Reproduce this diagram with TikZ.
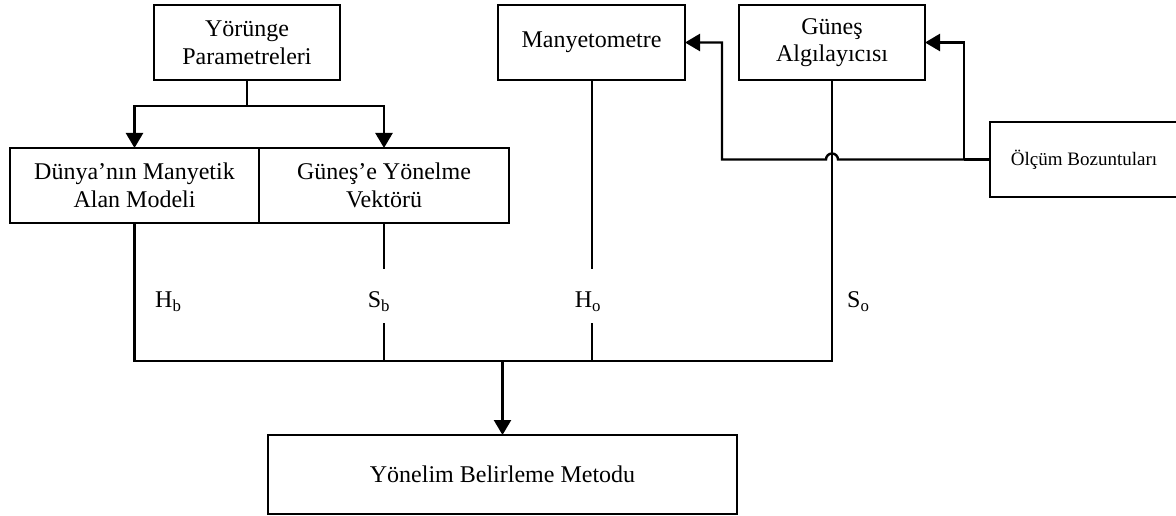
\documentclass[tikz,border=0pt]{standalone}
\usepackage{fontspec}
\setmainfont{Liberation Serif}
\usepackage{tikz}
\usetikzlibrary{arrows.meta, positioning, calc}

\begin{document}
\begin{tikzpicture}[x=1pt, y=1pt, node distance=20pt, >={Triangle[length=15pt,width=17pt]}]
    \tikzstyle{block} = [rectangle, draw=black, line width=1.5pt, outer sep=0pt, align=center, minimum height=75pt, font=\fontsize{24}{27.6}\selectfont]
    \tikzstyle{line} = [draw, line width=2.4pt, black]
    \tikzstyle{thinline} = [draw, line width=2pt, black]
    \tikzstyle{lbl} = [inner sep=0pt, font=\fontsize{24}{27.6}\selectfont]

    \useasboundingbox (0,0) rectangle (1176,-516);

    % top row
    \node [block, minimum width=186pt] (yor) at (247,-42.5) {Yörünge\\Parametreleri};
    \node [block, minimum width=187pt, right=158pt of yor] (many) {Manyetometre};
    \node [block, minimum width=186pt, right=54pt of many] (gunes) {Güneş\\Algılayıcısı};

    % models
    \node [block, minimum width=249pt] (dunya) at (134.5,-185.5) {Dünya’nın Manyetik\\Alan Modeli};
    \node [block, minimum width=250pt, right=0pt of dunya] (vektor) {Güneş’e Yönelme\\Vektörü};

    % disturbances and method
    \node [block, minimum width=188pt, font=\fontsize{19}{22}\selectfont] (olcum) at (1084,-159.5) {Ölçüm Bozuntuları};
    \node [block, minimum width=469pt, minimum height=79pt] (metot) at (502.5,-474.5) {Yönelim Belirleme Metodu};

    \coordinate (bus) at (0,-361);
    \coordinate (gaptop) at (0,-269);
    \coordinate (gapbot) at (0,-323);

    % signal labels
    \node [lbl, anchor=west] (hb) at (155,-302) {H\textsubscript{b}};
    \node [lbl] (sb) at (379,-302) {S\textsubscript{b}};
    \node [lbl] (ho) at (588,-302) {H\textsubscript{o}};
    \node [lbl, anchor=west] (so) at (847,-302) {S\textsubscript{o}};

    % fork from orbit parameters
    \path [line] (yor.south) -- ++(0,-26) coordinate (fork);
    \path [line, ->] (fork) -| (dunya.north);
    \path [line, ->] (fork) -| (vektor.north);

    % bus to method
    \path [line] (dunya.south) -- (dunya.south |- bus) -- (gunes.south |- bus) -- (gunes.south);
    \path [thinline] (vektor.south) -- (vektor.south |- gaptop);
    \path [thinline] (vektor.south |- gapbot) -- (vektor.south |- bus);
    \path [thinline] (many.south) -- (many.south |- gaptop);
    \path [thinline] (many.south |- gapbot) -- (many.south |- bus);
    \path [line, ->] (metot.north |- bus) -- (metot.north);

    % disturbances to sensors
    \path [line] (olcum.west) -- ++(-26,0) coordinate (brk);
    \path [line, ->] (brk) |- (gunes.east);
    \path [line, ->] (brk) -- ($(gunes.south |- brk)+(6,0)$) arc[start angle=0, end angle=180, radius=6pt] -- ++(-104,0) |- (many.east);
\end{tikzpicture}
\end{document}
